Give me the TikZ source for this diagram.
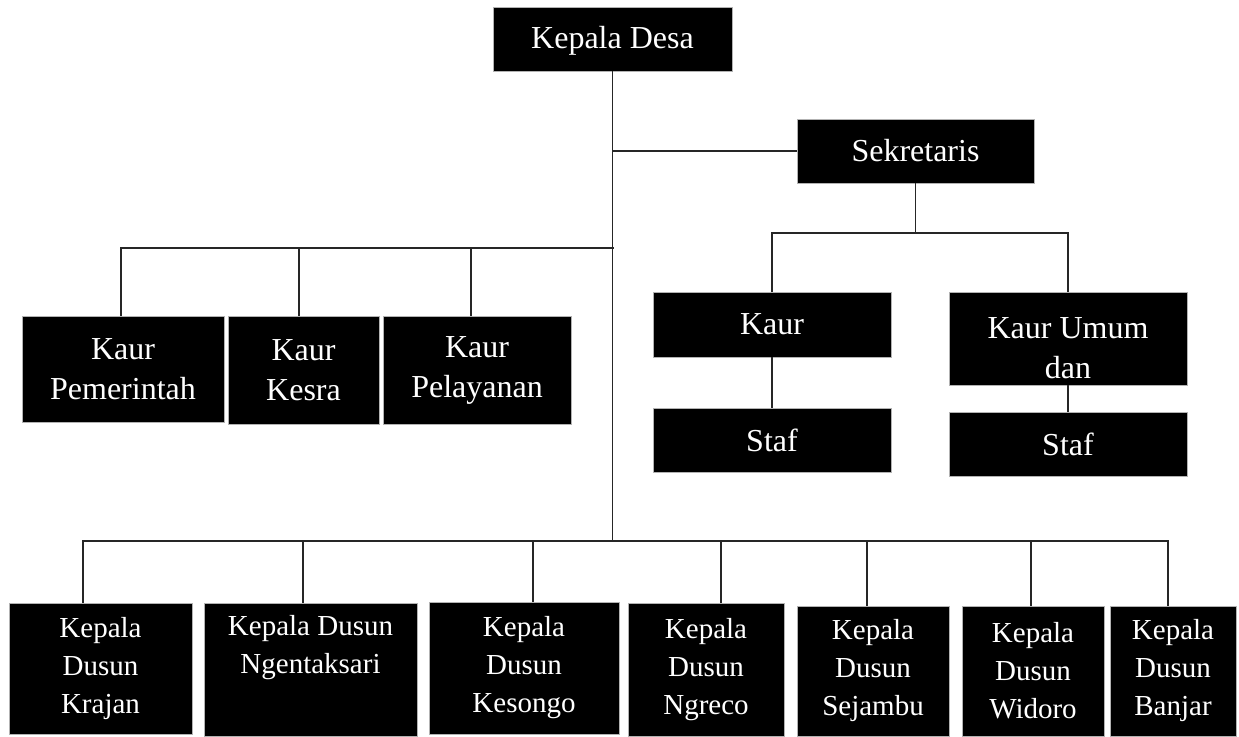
\documentclass[tikz,border=0pt]{standalone}
\usepackage{fontspec}
\setmainfont{Liberation Serif}
\usetikzlibrary{positioning}

\begin{document}
\begin{tikzpicture}[x=0.5pt,y=-0.5pt,
        box/.style={draw=gray!60, line width=0.4pt, fill=black, text=white,
            align=center, inner sep=0pt, font=\fontsize{16}{20}\selectfont},
        dusun/.style={box, font=\fontsize{14.5}{19}\selectfont},
        link/.style={draw=black!85, line width=0.6pt}]
        \useasboundingbox (0,0) rectangle (1239,736);

        % top
        \node[box, minimum width=119.5pt, minimum height=32pt]   (desa)    at (612.5,39)   {\rule{0pt}{13pt}Kepala Desa};
        \node[box, minimum width=118.5pt, minimum height=32pt]   (sek)     at (915.5,151)  {Sekretaris};

        % under sekretaris
        \node[box, minimum width=119pt, minimum height=32.5pt]   (kaur)    at (772,324.5)  {Kaur};
        \node[box, minimum width=119pt, minimum height=32pt]     (staf1)   [below=25.5pt of kaur]  {Staf};
        \node[box, minimum width=119pt, minimum height=46.5pt]   (umum)    at (1068,338.5) {\rule{0pt}{20pt}Kaur Umum\\dan};
        \node[box, minimum width=119pt, minimum height=32pt]     (staf2)   [below=13.5pt of umum]  {Staf};

        % kaur left
        \node[box, minimum width=101pt, minimum height=53pt]     (pem)     at (123,369)    {Kaur\\Pemerintah};
        \node[box, minimum width=75.5pt, minimum height=54pt]    (kesra)   at (303.5,370)  {Kaur\\Kesra};
        \node[box, minimum width=94pt, minimum height=54pt]      (pel)     at (477,370)    {Kaur\\Pelayanan};

        % dusun
        \node[dusun, minimum width=91.5pt, minimum height=65.5pt]  (krajan)  at (100.5,668.5) {Kepala\\Dusun\\Krajan};
        \node[dusun, minimum width=106.5pt, minimum height=66.5pt] (ngent)   at (310.5,669.5) {Kepala Dusun\\Ngentaksari\\\strut};
        \node[dusun, minimum width=95pt, minimum height=66pt]      (kesongo) at (524,668)     {Kepala\\Dusun\\Kesongo};
        \node[dusun, minimum width=78pt, minimum height=66.5pt]    (ngreco)  at (706,669.5)   {Kepala\\Dusun\\Ngreco};
        \node[dusun, minimum width=76pt, minimum height=65pt]      (sejambu) at (873,671)     {Kepala\\Dusun\\Sejambu};
        \node[dusun, minimum width=71pt, minimum height=65pt]      (widoro)  at (1033,671)    {Kepala\\Dusun\\Widoro};
        \node[dusun, minimum width=63pt, minimum height=65pt]      (banjar)  at (1173,671)    {Kepala\\Dusun\\Banjar};

        \coordinate (lbus)   at (614,248);
        \coordinate (sekbus) at (921,233);
        \coordinate (dbus)   at (612,541);

        % trunk and sekretaris
        \draw[link] (desa.south) -- (desa.south |- dbus);
        \draw[link] (sek.west -| desa.south) -- (sek.west);
        \draw[link] (sek.south) -- (sek.south |- sekbus);
        \draw[link] (kaur.north) |- (sekbus) -| (umum.north);
        \path[link] (kaur) edge (staf1)
                    (umum) edge (staf2);

        % left kaur
        \draw[link] ([xshift=-1pt]pem.north) |- (lbus);
        \draw[link] ([xshift=-2.25pt]kesra.north) -- ([xshift=-2.25pt]kesra.north |- lbus);
        \draw[link] ([xshift=-3pt]pel.north) -- ([xshift=-3pt]pel.north |- lbus);

        % dusun
        \draw[link] ([xshift=-8.75pt]krajan.north) |- (dbus) -| ([xshift=-2.5pt]banjar.north);
        \draw[link] ([xshift=-3.75pt]ngent.north) -- ([xshift=-3.75pt]ngent.north |- dbus);
        \draw[link] ([xshift=4.5pt]kesongo.north) -- ([xshift=4.5pt]kesongo.north |- dbus);
        \draw[link] ([xshift=7.5pt]ngreco.north) -- ([xshift=7.5pt]ngreco.north |- dbus);
        \draw[link] ([xshift=-3pt]sejambu.north) -- ([xshift=-3pt]sejambu.north |- dbus);
        \draw[link] ([xshift=-1pt]widoro.north) -- ([xshift=-1pt]widoro.north |- dbus);
\end{tikzpicture}
\end{document}
